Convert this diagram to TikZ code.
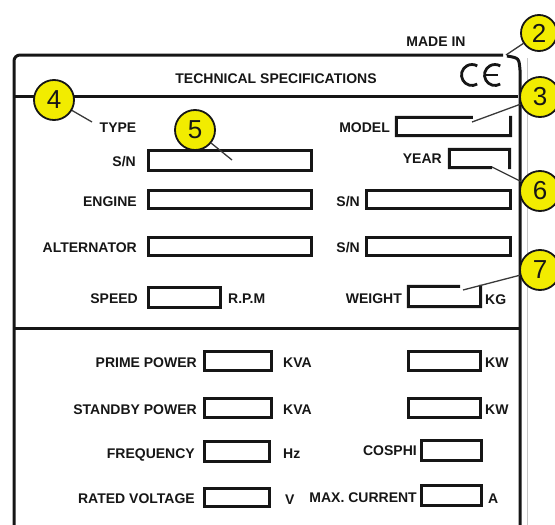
\documentclass[tikz,border=0pt]{standalone}
\usepackage{fontspec}
\setmainfont{Liberation Sans}
\usetikzlibrary{calc}
\definecolor{cy}{RGB}{242,236,0}
\definecolor{ink}{RGB}{22,22,22}
\begin{document}
\begin{tikzpicture}[x=1pt,y=-1pt,
  panel/.style={draw=ink, line width=3pt},
  fbox/.style={draw=ink, line width=3pt, rectangle, inner sep=0pt},
  gbox/.style={rectangle, inner sep=0pt},
  lbl/.style={font=\bfseries\fontsize{14}{14}\selectfont, text=ink, inner sep=0pt, text height=10pt, text depth=0pt},
  callout/.style={circle, draw=ink, line width=1.8pt, fill=cy, minimum size=40pt, inner sep=0pt, font=\fontsize{26}{26}\selectfont, text=ink},
  leader/.style={draw=ink!85, line width=1.3pt},
  ce/.style={draw=ink, line width=2.8pt},
]
\useasboundingbox (0,0) rectangle (555,525);

% panel outline
\draw[panel, rounded corners=6pt] (503,55) -- (14,55) -- (14,525);
\draw[panel] (507,56) .. controls (519,58) .. (520,70) -- (520,525);
\draw[black!22, line width=1pt] (527,58) -- (527,525);
\draw[panel] (14,96) -- (518,96);
\draw[panel] (14,328) -- (520,328);

% header texts
\node[lbl] (madein) at (436,41) {MADE IN};
\node[lbl] (title) at (276,78) {TECHNICAL SPECIFICATIONS};
\draw[ce] (472,75) ++(60:10.5) arc[start angle=60, end angle=300, radius=10.5];
\draw[ce] (495,75) ++(60:10.5) arc[start angle=60, end angle=300, radius=10.5];
\draw[ce] (486,75) -- (498,75);

% field boxes
\node[gbox, minimum width=114pt, minimum height=18pt] (bmodel) at (453.5,126.5) {};
\draw[fbox] ($(bmodel.north west)!0.67!(bmodel.north east)$) -- (bmodel.north west) -- (bmodel.south west) -- (bmodel.south east) -- (bmodel.north east) -- ++(0,-1.5);
\node[fbox, minimum width=163pt, minimum height=20pt] (bsn) at (230,160.5) {};
\node[gbox, minimum width=60pt, minimum height=18pt] (byear) at (479.5,158.5) {};
\draw[fbox] ($(byear.south west)!0.71!(byear.south east)$) -- (byear.south west) -- (byear.north west) -- (byear.north east) -- (byear.south east) -- ++(0,1.5);
\node[fbox, minimum width=163pt, minimum height=18pt] (beng) at (230,199.5) {};
\node[fbox, minimum width=144pt, minimum height=18pt] (bsne) at (438.5,199.5) {};
\node[fbox, minimum width=163pt, minimum height=18pt] (balt) at (230,246.5) {};
\node[fbox, minimum width=144pt, minimum height=18pt] (bsna) at (438.5,246.5) {};
\node[fbox, minimum width=72pt, minimum height=20pt] (bspeed) at (184.5,297.5) {};
\node[gbox, minimum width=72pt, minimum height=20pt] (bweight) at (444.5,296.5) {};
\draw[fbox] ($(bweight.north west)!0.715!(bweight.north east)$) -- (bweight.north west) -- (bweight.south west) -- (bweight.south east) -- (bweight.north east) -- ++(0,-1.5);

\node[fbox, minimum width=67pt, minimum height=19pt] (bprime) at (238,361) {};
\node[fbox, minimum width=72pt, minimum height=19pt] (bprimekw) at (444.5,361) {};
\node[fbox, minimum width=67pt, minimum height=19pt] (bstand) at (238,408) {};
\node[fbox, minimum width=72pt, minimum height=19pt] (bstandkw) at (444.5,408) {};
\node[fbox, minimum width=65pt, minimum height=20pt] (bfreq) at (237,451.5) {};
\node[fbox, minimum width=60pt, minimum height=20pt] (bcos) at (451.5,450) {};
\node[fbox, minimum width=65pt, minimum height=18pt] (bvolt) at (237,497.5) {};
\node[fbox, minimum width=60pt, minimum height=20pt] (bcur) at (451.5,495.5) {};

% labels
\node[lbl] (ltype) at (118,127) {TYPE};
\node[lbl, anchor=east] (lmodel) at (390,127) {MODEL};
\node[lbl, anchor=east] (lsn) at (136,161) {S/N};
\node[lbl, anchor=east] (lyear) at (442,158) {YEAR};
\node[lbl, anchor=east] (leng) at (137,201) {ENGINE};
\node[lbl, anchor=east] (lsne) at (360,201) {S/N};
\node[lbl, anchor=east] (lalt) at (137,247) {ALTERNATOR};
\node[lbl, anchor=east] (lsna) at (360,247) {S/N};
\node[lbl, anchor=east] (lspeed) at (138,298) {SPEED};
\node[lbl, anchor=west] (lrpm) at (228,298) {R.P.M};
\node[lbl, anchor=east] (lweight) at (402,298) {WEIGHT};
\node[lbl, anchor=west] (lkg) at (485,299) {KG};

\node[lbl, anchor=east] (lprime) at (197,362) {PRIME POWER};
\node[lbl, anchor=west] (lkva1) at (283,362) {KVA};
\node[lbl, anchor=west] (lkw1) at (485,362) {KW};
\node[lbl, anchor=east] (lstand) at (197,409) {STANDBY POWER};
\node[lbl, anchor=west] (lkva2) at (283,409) {KVA};
\node[lbl, anchor=west] (lkw2) at (485,409) {KW};
\node[lbl, anchor=east] (lfreq) at (195,453) {FREQUENCY};
\node[lbl, anchor=west] (lhz) at (283,453) {Hz};
\node[lbl, anchor=east] (lcos) at (417,450) {COSPHI};
\node[lbl, anchor=east] (lvolt) at (195,498) {RATED VOLTAGE};
\node[lbl, anchor=west] (lv) at (285,499) {V};
\node[lbl, anchor=east] (lcur) at (417,497) {MAX. CURRENT};
\node[lbl, anchor=west] (la) at (488,498) {A};

% callouts
\node[callout, minimum size=36pt] (c2) at (539,33) {2};
\node[callout] (c3) at (540,97) {3};
\node[callout] (c4) at (54,100) {4};
\node[callout] (c5) at (195,130) {5};
\node[callout] (c6) at (540,191) {6};
\node[callout] (c7) at (540,270) {7};

\coordinate (t2) at (506,55);
\coordinate (t3) at (472,122);
\coordinate (t4) at (92,122);
\coordinate (t5) at (232,160);
\coordinate (t6) at (492,167);
\coordinate (t7) at (463,290);
\draw[leader] (c2) -- (t2);
\draw[leader] (c3) -- (t3);
\draw[leader] (c4) -- (t4);
\draw[leader] (c5) -- (t5);
\draw[leader] (c6) -- (t6);
\draw[leader] (c7) -- (t7);
\end{tikzpicture}
\end{document}
